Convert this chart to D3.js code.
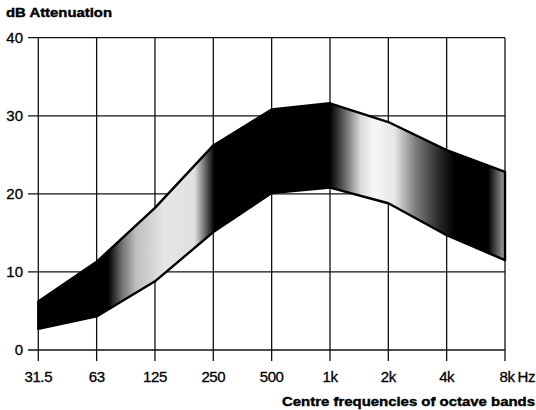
<!DOCTYPE html>
<html><head><meta charset="utf-8">
<script src="https://cdn.jsdelivr.net/npm/d3@7"></script>
<style>body{margin:0;background:#fff}svg{display:block}</style>
</head><body>
<svg id="c" width="536" height="410"></svg>
<script>
const bands = ["31.5","63","125","250","500","1k","2k","4k","8k"];
const upperDb = [6.2, 11.3, 18.2, 26.2, 30.8, 31.6, 29.2, 25.6, 22.8];
const lowerDb = [2.7, 4.3, 8.8, 15.1, 20.1, 20.8, 18.8, 14.7, 11.5];
const yTicks = [0, 10, 20, 30, 40];
// gradient darkness along the band (offset, opacity)
const shadeOffsets = [0, 0.15, 0.18, 0.21, 0.27, 0.335, 0.358, 0.377, 0.625, 0.657, 0.69, 0.72, 0.764, 0.807, 0.861, 0.893, 0.964, 1];
const shadeOpacity = [1, 1, 0.55, 0.25, 0.1, 0.12, 0.6, 1, 1, 0.6, 0.15, 0.03, 0.1, 0.5, 0.85, 1, 1, 0.35];

const svg = d3.select("#c");
const x = d3.scalePoint().domain(bands).range([38.3, 505]);
const y = d3.scaleLinear().domain([0, 40]).range([350, 37.7]);

const defs = svg.append("defs");
const grad = defs.append("linearGradient").attr("id","g")
  .attr("gradientUnits","userSpaceOnUse")
  .attr("x1", x(bands[0])).attr("x2", x(bands[bands.length-1])).attr("y1",0).attr("y2",0);
shadeOffsets.forEach((o,i)=>grad.append("stop").attr("offset",o).attr("stop-color","#000").attr("stop-opacity",shadeOpacity[i]));

// grid
const g = svg.append("g").attr("stroke","#111").attr("stroke-width",1.3);
yTicks.forEach(t=>g.append("line").attr("x1",28).attr("x2",x("8k")).attr("y1",y(t)).attr("y2",y(t)));
bands.forEach(b=>g.append("line").attr("x1",x(b)).attr("x2",x(b)).attr("y1",y(40)).attr("y2",361));

// band
const data = bands.map((b,i)=>({b, u:upperDb[i], l:lowerDb[i]}));
const area = d3.area().x(d=>x(d.b)).y0(d=>y(d.l)).y1(d=>y(d.u));
svg.append("path").datum(data).attr("d",area).attr("fill","#fff");
svg.append("path").datum(data).attr("d",area).attr("fill","url(#g)")
  .attr("stroke","#000").attr("stroke-width",2.4).attr("stroke-linejoin","round");

const ff = "Liberation Sans, Arial, sans-serif";
// y labels
svg.append("g").selectAll("text").data(yTicks).join("text")
  .attr("x",23).attr("y",d=>y(d)).attr("dy","0.36em").attr("text-anchor","end")
  .attr("font-family",ff).attr("font-size",15).attr("stroke","#000").attr("stroke-width",0.3).text(d=>d);
// x labels
svg.append("g").selectAll("text").data(bands).join("text")
  .attr("x",d=>x(d)+(d==="8k"?2:0)).attr("y",382).attr("text-anchor","middle")
  .attr("font-family",ff).attr("font-size",15).attr("letter-spacing",-0.4)
  .attr("stroke","#000").attr("stroke-width",0.3).text(d=>d);
svg.append("text").attr("x",535).attr("y",382).attr("text-anchor","end")
  .attr("font-family",ff).attr("font-size",15).attr("letter-spacing",-0.4)
  .attr("stroke","#000").attr("stroke-width",0.3).text("Hz");

svg.append("text").attr("x",6).attr("y",17)
  .attr("font-family",ff).attr("font-weight","bold").attr("font-size",12.5)
  .attr("textLength",106).attr("lengthAdjust","spacingAndGlyphs")
  .attr("stroke","#000").attr("stroke-width",0.4)
  .text("dB Attenuation");
svg.append("text").attr("x",282).attr("y",406)
  .attr("font-family",ff).attr("font-weight","bold").attr("font-size",13)
  .attr("textLength",253).attr("lengthAdjust","spacingAndGlyphs")
  .attr("stroke","#000").attr("stroke-width",0.4)
  .text("Centre frequencies of octave bands");
</script>
</body></html>
